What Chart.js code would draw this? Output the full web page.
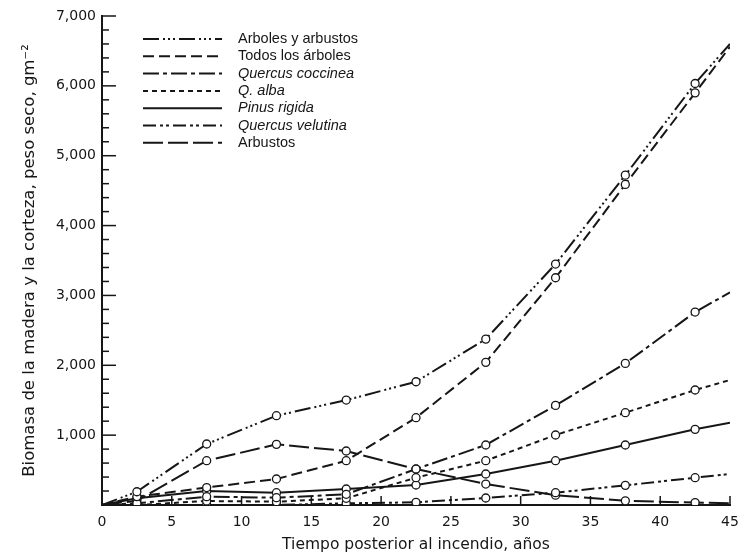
<!DOCTYPE html>
<html>
<head>
<meta charset="utf-8">
<script src="https://cdn.jsdelivr.net/npm/chart.js@4"></script>
<style>
  body { margin: 0; background: #fff; }
  canvas { display: block; }
</style>
</head>
<body>
<canvas id="graficoBiomasa" width="739" height="554"></canvas>
<script>
// Datos
const anios = [0, 2.5, 7.5, 12.5, 17.5, 22.5, 27.5, 32.5, 37.5, 42.5, 45];
const arbolesYArbustos = [0, 190, 873, 1278, 1502, 1764, 2375, 3449, 4722, 6034, 6600];
const todosLosArboles = [0, 120, 250, 372, 634, 1250, 2042, 3253, 4589, 5900, 6560];
const quercusCoccinea = [0, 24, 119, 105, 153, 515, 859, 1426, 2027, 2762, 3044];
const quercusAlba = [0, 0, 57, 48, 96, 391, 634, 1002, 1321, 1646, 1789];
const pinusRigida = [0, 96, 200, 176, 229, 286, 444, 634, 859, 1083, 1178];
const quercusVelutina = [0, 0, 0, 0, 24, 38, 100, 176, 281, 391, 444];
const arbustos = [0, 60, 634, 868, 773, 514, 300, 140, 60, 35, 25];

const etiquetas = ['Arboles y arbustos', 'Todos los árboles', 'Quercus coccinea', 'Q. alba', 'Pinus rigida', 'Quercus velutina', 'Arbustos'];
const cursiva = [false, false, true, true, true, true, false];
const series = [arbolesYArbustos, todosLosArboles, quercusCoccinea, quercusAlba, pinusRigida, quercusVelutina, arbustos];
const trazos = [
  [16, 4, 2, 3, 2, 3, 2, 4],
  [11, 5],
  [16, 4, 4, 4],
  [5, 4],
  [],
  [13, 4, 3, 3, 3, 4],
  [20, 5]
];

const negro = '#161616';

const datasets = series.map((serie, i) => ({
  label: etiquetas[i],
  data: anios.map((a, j) => ({ x: a, y: serie[j] })),
  borderColor: negro,
  borderWidth: 2,
  borderDash: trazos[i],
  pointRadius: anios.map((a, j) => (j === 0 || j === anios.length - 1) ? 0 : 4),
  pointBackgroundColor: '#fff',
  pointBorderColor: negro,
  pointBorderWidth: 1.3,
  tension: 0,
  fill: false
}));

function linea(ctx, x1, y1, x2, y2) {
  ctx.beginPath();
  ctx.moveTo(x1, y1);
  ctx.lineTo(x2, y2);
  ctx.stroke();
}

// marcas de los ejes hacia dentro y leyenda dentro del área
const marcasYLeyenda = {
  id: 'marcasYLeyenda',
  afterDraw(chart) {
    const { ctx, scales: { x, y } } = chart;
    ctx.save();
    ctx.strokeStyle = negro;
    ctx.lineWidth = 1.5;
    for (let v = 200; v <= 7000; v += 200) {
      const py = y.getPixelForValue(v);
      const largo = v % 1000 === 0 ? 14 : 7;
      linea(ctx, x.left, py, x.left + largo, py);
    }
    for (let v = 5; v <= 45; v += 5) {
      const px = x.getPixelForValue(v);
      linea(ctx, px, y.bottom, px, y.bottom - 9);
    }

    ctx.lineWidth = 2;
    ctx.fillStyle = negro;
    ctx.textBaseline = 'middle';
    chart.data.datasets.forEach((ds, i) => {
      const fy = 39 + i * 17.3;
      ctx.setLineDash(ds.borderDash);
      linea(ctx, 143, fy, 222, fy);
      ctx.setLineDash([]);
      ctx.font = (cursiva[i] ? 'italic ' : '') + '14.5px "Liberation Sans", Arial, sans-serif';
      ctx.fillText(ds.label, 238, fy);
    });
    ctx.restore();
  }
};

const grafico = new Chart(document.getElementById('graficoBiomasa'), {
  type: 'line',
  data: { datasets },
  options: {
    responsive: false,
    animation: false,
    devicePixelRatio: 1,
    layout: { padding: { top: 16, right: 9, left: 0, bottom: 0 } },
    plugins: {
      legend: { display: false },
      tooltip: { enabled: false }
    },
    scales: {
      x: {
        type: 'linear',
        min: 0,
        max: 45,
        ticks: {
          stepSize: 5,
          padding: 9,
          color: negro,
          font: { family: '"DejaVu Sans", sans-serif', size: 14 }
        },
        grid: { display: false, drawTicks: false },
        border: { display: true, color: negro, width: 2 },
        title: {
          display: true,
          text: 'Tiempo posterior al incendio, años',
          color: negro,
          font: { family: '"DejaVu Sans", sans-serif', size: 15.5 },
          padding: { top: 0, bottom: 0 },
          align: 'center'
        },
        afterFit: (escala) => {
          escala.height = 49;
          escala.paddingRight = 0;
          escala.paddingLeft = 0;
        }
      },
      y: {
        min: 0,
        max: 7000,
        ticks: {
          stepSize: 1000,
          padding: 6,
          color: negro,
          font: { family: '"DejaVu Sans", sans-serif', size: 14 },
          callback: (v) => v === 0 ? '' : v.toLocaleString('en-US')
        },
        grid: { display: false, drawTicks: false },
        border: { display: true, color: negro, width: 2 },
        title: {
          display: true,
          text: 'Biomasa de la madera y la corteza, peso seco, gm⁻²',
          color: negro,
          font: { family: '"DejaVu Sans", sans-serif', size: 16.5 },
          padding: { top: 20, bottom: 0 }
        },
        afterFit: (escala) => {
          escala.width = 102;
          escala.paddingTop = 0;
          escala.paddingBottom = 0;
        }
      }
    }
  },
  plugins: [marcasYLeyenda]
});
</script>
</body>
</html>
